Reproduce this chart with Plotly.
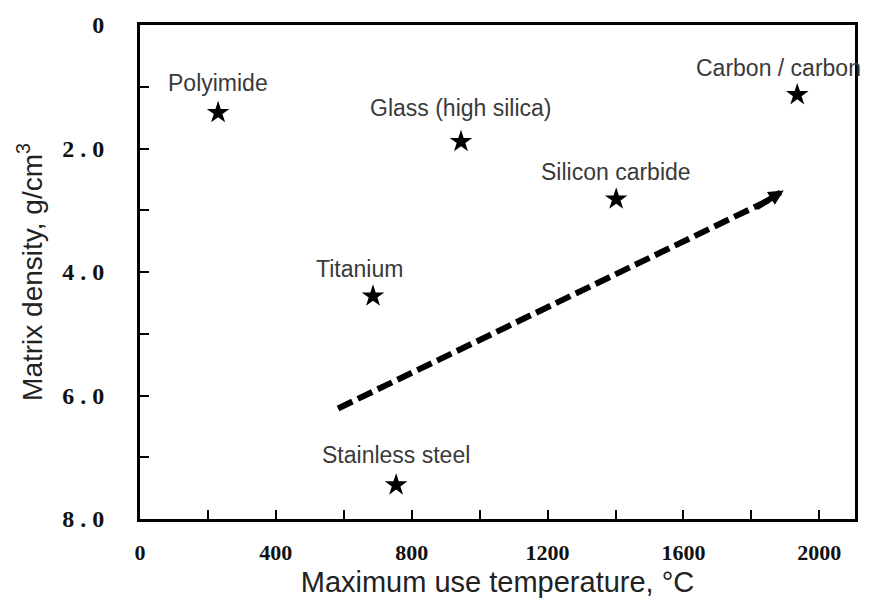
import plotly.graph_objects as go

# Data
materials = ["Polyimide", "Glass (high silica)", "Carbon / carbon", "Silicon carbide", "Titanium", "Stainless steel"]
max_temp = [230, 945, 1935, 1402, 686, 754]
density = [1.42, 1.89, 1.13, 2.82, 4.39, 7.45]

trend_x = [583, 1850]
trend_y = [6.21, 2.84]
arrow_tip = (1895, 2.68)

x_ticks = [0, 200, 400, 600, 800, 1000, 1200, 1400, 1600, 1800, 2000]
x_ticktext = ["0", "", "400", "", "800", "", "1200", "", "1600", "", "2000"]
y_ticks = [0, 1, 2, 3, 4, 5, 6, 7, 8]
y_ticktext = ["0", "", "2 . 0", "", "4 . 0", "", "6 . 0", "", "8 . 0"]

label_xshift = {"Carbon / carbon": -19, "Titanium": -14}
label_yshift = {"Glass (high silica)": 34, "Carbon / carbon": 27, "Silicon carbide": 27, "Titanium": 27}

fig = go.Figure()

fig.add_trace(go.Scatter(
    x=trend_x, y=trend_y, mode="lines",
    line=dict(color="black", width=6, dash="16px,6px"),
    hoverinfo="skip", showlegend=False))

fig.add_trace(go.Scatter(
    x=max_temp, y=density, mode="markers",
    marker=dict(symbol="star", size=17, color="black", line=dict(width=0)),
    showlegend=False))

for m, xv, yv in zip(materials, max_temp, density):
    fig.add_annotation(x=xv, y=yv, text=m, showarrow=False,
                       xshift=label_xshift.get(m, 0), yshift=label_yshift.get(m, 30),
                       font=dict(family="Liberation Sans, Arial", size=23, color="#3a3a3a"))

fig.add_annotation(x=arrow_tip[0], y=arrow_tip[1], ax=trend_x[1] - 40, ay=trend_y[1] + 0.13,
                   xref="x", yref="y", axref="x", ayref="y", text="",
                   showarrow=True, arrowhead=2, arrowsize=0.5, arrowwidth=6, arrowcolor="black")

fig.update_xaxes(range=[0, 2105], tickvals=x_ticks, ticktext=x_ticktext,
                 ticks="inside", ticklen=9, tickwidth=2, tickcolor="black",
                 showline=True, linewidth=3, linecolor="black", mirror=True,
                 showgrid=False, zeroline=False, ticklabelstandoff=12,
                 tickfont=dict(family="Liberation Serif, Times New Roman", size=22, color="#111", weight="bold"),
                 title=dict(text="Maximum use temperature, °C", standoff=8,
                            font=dict(family="Liberation Sans, Arial", size=29, color="#222")))

fig.update_yaxes(range=[8, 0], tickvals=y_ticks, ticktext=y_ticktext,
                 ticks="inside", ticklen=9, tickwidth=2, tickcolor="black",
                 showline=True, linewidth=3, linecolor="black", mirror=True,
                 showgrid=False, zeroline=False, ticklabelstandoff=28,
                 tickfont=dict(family="Liberation Serif, Times New Roman", size=24, color="#111", weight="bold"),
                 title=dict(text="Matrix density, g/cm<sup>3</sup>", standoff=12,
                            font=dict(family="Liberation Sans, Arial", size=28, color="#222")))

fig.update_layout(width=874, height=611, plot_bgcolor="white", paper_bgcolor="white",
                  margin=dict(l=140, r=19, t=25, b=92))

fig.write_html("out.html")
